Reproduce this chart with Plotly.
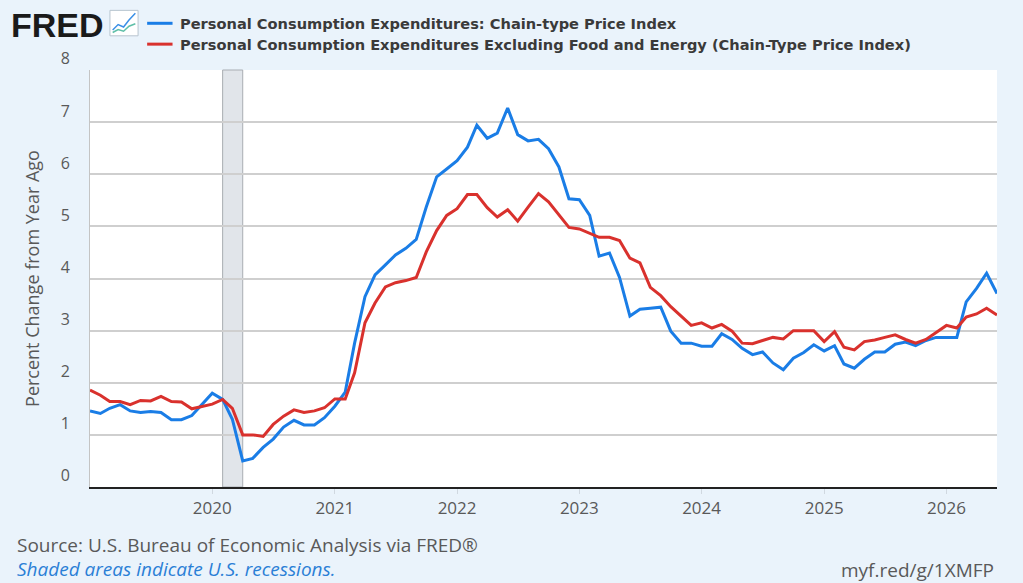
import plotly.graph_objects as go
import pandas as pd

# Monthly observations, Jan 2019 - Jun 2026 (percent change from year ago)
dates = pd.date_range("2019-01-01", periods=90, freq="MS")

pce = [1.46, 1.41, 1.51, 1.58, 1.46, 1.43, 1.45, 1.43, 1.29, 1.29, 1.37, 1.59,
       1.80, 1.68, 1.30, 0.50, 0.55, 0.76, 0.92, 1.15, 1.28, 1.19, 1.19, 1.33,
       1.55, 1.82, 2.76, 3.65, 4.07, 4.26, 4.45, 4.58, 4.75, 5.37, 5.95, 6.10,
       6.26, 6.52, 6.94, 6.69, 6.79, 7.27, 6.76, 6.64, 6.67, 6.49, 6.14, 5.53,
       5.51, 5.21, 4.43, 4.49, 4.02, 3.28, 3.41, 3.43, 3.45, 2.99, 2.76, 2.76,
       2.70, 2.70, 2.94, 2.83, 2.66, 2.54, 2.59, 2.38, 2.25, 2.47, 2.58, 2.73,
       2.61, 2.71, 2.36, 2.28, 2.45, 2.59, 2.59, 2.74, 2.78, 2.71, 2.81, 2.87,
       2.87, 2.87, 3.55, 3.81, 4.10, 3.71]

core = [1.86, 1.76, 1.64, 1.64, 1.58, 1.66, 1.65, 1.74, 1.64, 1.63, 1.50, 1.55,
        1.59, 1.68, 1.51, 1.00, 1.00, 0.97, 1.20, 1.36, 1.48, 1.43, 1.46, 1.52,
        1.69, 1.69, 2.19, 3.15, 3.53, 3.84, 3.92, 3.96, 4.02, 4.51, 4.92, 5.21,
        5.34, 5.61, 5.61, 5.36, 5.18, 5.32, 5.10, 5.37, 5.63, 5.47, 5.22, 4.98,
        4.95, 4.87, 4.79, 4.79, 4.73, 4.39, 4.30, 3.83, 3.67, 3.46, 3.28, 3.10,
        3.15, 3.05, 3.12, 2.99, 2.76, 2.75, 2.81, 2.87, 2.84, 3.00, 3.00, 3.00,
        2.79, 2.98, 2.68, 2.63, 2.79, 2.82, 2.87, 2.92, 2.83, 2.76, 2.83, 2.96,
        3.10, 3.05, 3.26, 3.32, 3.43, 3.30]

series_names = ["Personal Consumption Expenditures: Chain-type Price Index",
                "Personal Consumption Expenditures Excluding Food and Energy (Chain-Type Price Index)"]
series_colors = ["#1a7de6", "#d9312d"]

recession_start = "2020-02-01"
recession_end = "2020-04-01"

year_ticks = ["2020-01-01", "2021-01-01", "2022-01-01", "2023-01-01",
              "2024-01-01", "2025-01-01", "2026-01-01"]
year_labels = ["2020", "2021", "2022", "2023", "2024", "2025", "2026"]
y_ticks = [0, 1, 2, 3, 4, 5, 6, 7, 8]

bg = "#eaf3fb"
grey_text = "#595959"

fig = go.Figure()

# recession shading
fig.add_vrect(x0=recession_start, x1=recession_end, fillcolor="#e1e5ea", opacity=1,
              line=dict(color="#a9adb2", width=1), layer="below")

for vals, name, col in zip([pce, core], series_names, series_colors):
    fig.add_trace(go.Scatter(x=dates, y=vals, mode="lines", name=name,
                             line=dict(color=col, width=3),
                             showlegend=False))

# header: FRED logo + legend
fig.add_annotation(xref="paper", yref="paper", x=-0.089, y=1.109, xanchor="left", yanchor="middle",
                   text="<b>FRED</b>", showarrow=False,
                   font=dict(family="Liberation Sans", size=34, color="#1a1a1a"))
# small chart icon
fig.add_shape(type="rect", xref="paper", yref="paper", x0=0.022, x1=0.053, y0=1.082, y1=1.143,
              fillcolor="#ffffff", line=dict(color="#b8c4cf", width=1))
fig.add_shape(type="path", xref="paper", yref="paper",
              path="M 0.025 1.096 L 0.031 1.109 L 0.037 1.103 L 0.043 1.120 L 0.050 1.136",
              line=dict(color="#3a8fe6", width=1.5))
fig.add_shape(type="path", xref="paper", yref="paper",
              path="M 0.025 1.090 L 0.031 1.097 L 0.037 1.093 L 0.043 1.105 L 0.050 1.111",
              line=dict(color="#5fbfa8", width=1.5))

legend_y = [1.112, 1.062]
for ly, name, col in zip(legend_y, series_names, series_colors):
    fig.add_shape(type="line", xref="paper", yref="paper", x0=0.063, x1=0.091, y0=ly, y1=ly,
                  line=dict(color=col, width=3))
    fig.add_annotation(xref="paper", yref="paper", x=0.097, y=ly, xanchor="left", yanchor="middle",
                       text="<b>" + name + "</b>", showarrow=False,
                       font=dict(family="DejaVu Sans", size=14.6, color="#3a3a3a"))

# footer
fig.add_annotation(xref="paper", yref="paper", x=-0.083, y=-0.138, xanchor="left", yanchor="middle",
                   text="Source: U.S. Bureau of Economic Analysis via FRED®", showarrow=False,
                   font=dict(family="Open Sans", size=19, color=grey_text))
fig.add_annotation(xref="paper", yref="paper", x=-0.083, y=-0.197, xanchor="left", yanchor="middle",
                   text="<i>Shaded areas indicate U.S. recessions.</i>", showarrow=False,
                   font=dict(family="Open Sans", size=19, color="#2a7fd6"))
fig.add_annotation(xref="paper", yref="paper", x=0.999, y=-0.199, xanchor="right", yanchor="middle",
                   text="myf.red/g/1XMFP", showarrow=False,
                   font=dict(family="Open Sans", size=19, color=grey_text))

fig.update_layout(
    width=1023, height=583,
    margin=dict(l=90, r=26, t=70, b=96),
    paper_bgcolor=bg, plot_bgcolor="#ffffff",
    font=dict(family="Open Sans", color=grey_text),
    xaxis=dict(range=["2019-01-01", "2026-06-01"], tickvals=year_ticks, ticktext=year_labels,
               showgrid=False, zeroline=False, ticks="outside", ticklen=5, tickcolor="#d0d8e0",
               showline=True, linecolor="#222222", linewidth=2,
               tickfont=dict(size=17, color=grey_text)),
    yaxis=dict(range=[0, 8], tickvals=y_ticks, showgrid=True, gridcolor="#cfcfcf", gridwidth=1.5,
               zeroline=False, showline=True, linecolor="#c4c4c4", linewidth=1,
               ticklabelposition="outside top", ticklabelstandoff=16,
               tickfont=dict(size=16, color=grey_text),
               title=dict(text="Percent Change from Year Ago", font=dict(size=18, color=grey_text),
                          standoff=16)),
)

fig.write_html("out.html", config={"displayModeBar": False},
               post_script="document.body.style.margin='0';document.body.style.background='#eaf3fb';")
